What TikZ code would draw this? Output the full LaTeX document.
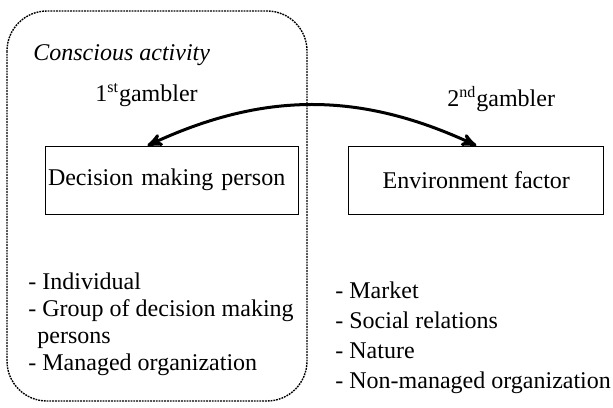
\documentclass[tikz,border=0pt]{standalone}
\usepackage{fontspec}
\setmainfont{Liberation Serif}
\usetikzlibrary{arrows,positioning}

\begin{document}
\begin{tikzpicture}[x=0.5pt,y=-0.5pt,>=stealth',font=\fontsize{12}{13.5}\selectfont,
    box/.style={draw,thin,minimum height=34pt,inner sep=1.5pt},
    lbl/.style={anchor=base west,inner sep=0pt},
    list/.style={anchor=north west,align=left,inner sep=0pt}]
            \useasboundingbox (0,0) rectangle (613,407);
            \draw [dash pattern=on 0.9pt off 0.5pt,line width=0.7pt,rounded corners=20pt] (7,11) rectangle (307,401);

            \node [box,text width=123.5pt,align=left] (P) at (171.5,180) {Decision making person};
            \node [box,minimum width=127.5pt]         (E) [right=25pt of P] {Environment factor};

            \node [lbl,font=\fontsize{12}{13.5}\selectfont\itshape] (CA) at (33,60) {Conscious activity};
            \node [lbl] (G1) at (95,101)  {1\textsuperscript{st}gambler};
            \node [lbl] (G2) at (447,106) {2\textsuperscript{nd}gambler};

            \node [list] (LP) at (28,272) {- Individual\\- Group of decision making\\\hspace*{4.5pt}persons\\- Managed organization};
            \node [list,font=\fontsize{12}{15}\selectfont] (LE) at (335,281) {- Market\\- Social relations\\- Nature\\- Non-managed organization};

            \draw [<->,line width=1.5pt] ([xshift=-12pt]P.north) to [bend left=25] (E.north);
        \end{tikzpicture}
\end{document}
